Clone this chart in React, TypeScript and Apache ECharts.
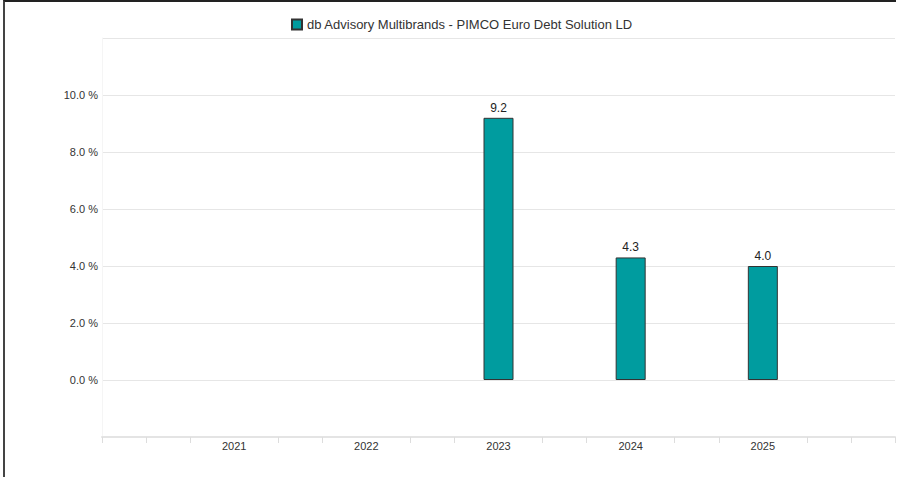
import React, { useEffect, useRef } from "react";
import * as echarts from "echarts";

const years: number[] = [2021, 2022, 2023, 2024, 2025];
const returns: (number | null)[] = [null, null, 9.2, 4.3, 4.0];
const seriesName = "db Advisory Multibrands - PIMCO Euro Debt Solution LD";
const yTicks: number[] = [0, 2, 4, 6, 8, 10];

const FONT = "'Liberation Sans', Arial, sans-serif";

export default function App() {
  const ref = useRef<HTMLDivElement>(null);
  useEffect(() => {
    document.body.style.margin = "0";
    if (!ref.current) return;
    const chart = echarts.init(ref.current, undefined, { renderer: "svg" });
    chart.setOption({
      animation: false,
      backgroundColor: "#ffffff",
      textStyle: { fontFamily: FONT },
      legend: {
        show: true,
        left: 286,
        top: 13,
        itemWidth: 10,
        itemHeight: 10,
        itemGap: 10,
        icon: "rect",
        textStyle: { fontSize: 13, color: "#333", fontFamily: FONT },
        data: [seriesName],
      },
      grid: { left: 102, right: 4, top: 38, bottom: 40, containLabel: false },
      xAxis: {
        type: "value",
        min: 2020,
        max: 2026,
        interval: 1,
        axisLine: { show: true, onZero: false, lineStyle: { color: "#e4e4e4", width: 2 } },
        axisTick: { show: true, customValues: [2020, 2026], length: 6, lineStyle: { color: "#dddddd" } },
        minorTick: { show: true, splitNumber: 3, length: 6, lineStyle: { color: "#dddddd" } },
        splitLine: { show: false },
        axisLabel: {
          margin: 3,
          fontSize: 11,
          color: "#333",
          fontFamily: FONT,
          formatter: (v: number) => (years.indexOf(v) >= 0 ? String(v) : ""),
        },
      },
      yAxis: {
        type: "value",
        min: -2,
        max: 12,
        interval: 2,
        axisLine: { show: true, lineStyle: { color: "#f5f5f5" } },
        axisTick: { show: false },
        splitLine: { show: true, lineStyle: { color: "#e6e6e6", width: 1 } },
        axisLabel: {
          margin: 4,
          fontSize: 11,
          color: "#333",
          fontFamily: FONT,
          formatter: (v: number) => (yTicks.indexOf(v) >= 0 ? v.toFixed(1) + " %" : ""),
        },
      },
      series: [
        {
          name: seriesName,
          type: "bar",
          barWidth: 30,
          data: years.map((y, i) => [y, returns[i]]),
          itemStyle: { color: "#009C9F", borderColor: "#333", borderWidth: 1 },
          label: {
            show: true,
            position: "top",
            distance: 4,
            fontSize: 12,
            fontWeight: 500,
            color: "#222",
            fontFamily: FONT,
            formatter: (p: any) => (p.value[1] == null ? "" : Number(p.value[1]).toFixed(1)),
          },
        },
      ],
    });
    return () => chart.dispose();
  }, []);
  return (
    <div style={{ position: "relative", width: 899, height: 477, overflow: "hidden" }}>
      <div ref={ref} style={{ width: 899, height: 477 }} />
      <div
        style={{
          position: "absolute",
          left: 3,
          top: 0,
          width: 893,
          height: 477,
          borderTop: "2px solid #222",
          borderLeft: "2px solid #444",
          pointerEvents: "none",
          boxSizing: "border-box",
        }}
      />
    </div>
  );
}
